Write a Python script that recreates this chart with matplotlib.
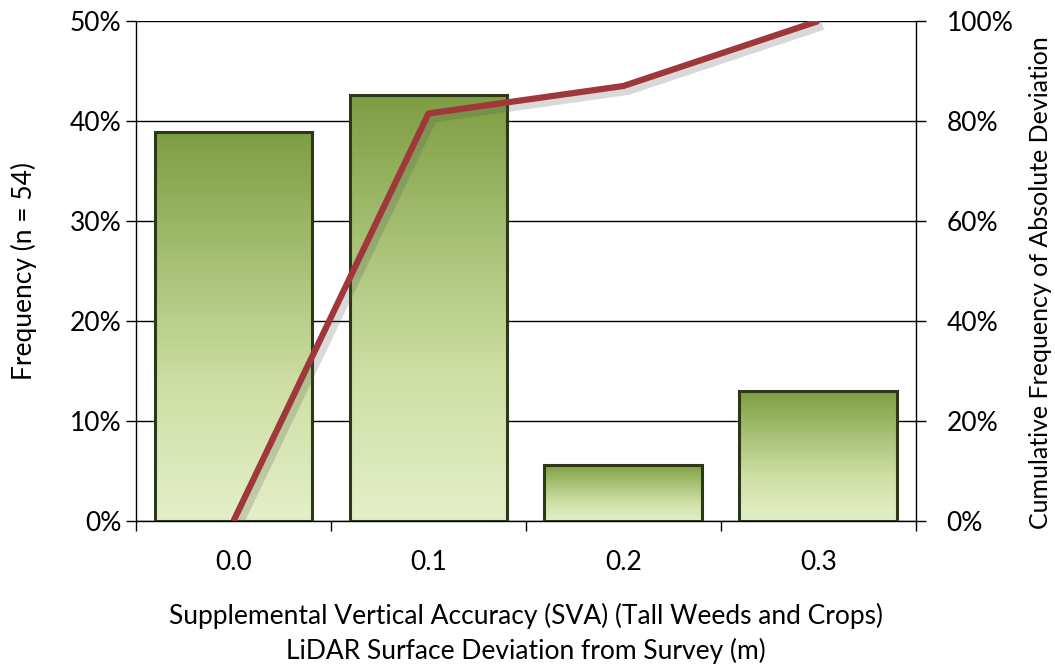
import numpy as np
import matplotlib
matplotlib.use("Agg")
import matplotlib.pyplot as plt
import matplotlib.patheffects as pe
from matplotlib.colors import LinearSegmentedColormap
from matplotlib.ticker import FuncFormatter, MultipleLocator

# --- data ---
categories = ["0.0", "0.1", "0.2", "0.3"]
frequency = [38.9, 42.6, 5.6, 13.0]          # % of n = 54
cumulative = [0.0, 81.5, 87.0, 100.0]        # cumulative % of absolute deviation

plt.rcParams['font.family'] = ['Lato', 'DejaVu Sans']

fig = plt.figure(figsize=(10.55, 6.66), dpi=100)
ax = fig.add_axes([0.1289, 0.2177, 0.7393, 0.7508])
ax2 = ax.twinx()

x = np.arange(len(categories))
bar_w = 0.81

# gradient for each bar (dark top -> light bottom)
cmap = LinearSegmentedColormap.from_list("grn", ["#e4efc8", "#cfe0a6", "#a6c074", "#7d9d42"])
grad = np.linspace(0, 1, 256).reshape(-1, 1)
bars = ax.bar(x, frequency, width=bar_w, facecolor="none", edgecolor="#2c3818",
              linewidth=2.2, zorder=3)
for b in bars:
    x0, y0 = b.get_x(), b.get_y()
    w, h = b.get_width(), b.get_height()
    im = ax.imshow(grad, extent=(x0, x0 + w, y0, y0 + h), origin="lower",
                   cmap=cmap, aspect="auto", zorder=2, interpolation="bicubic")
    im.set_clip_path(b)

ax.set_xlim(-0.5, len(categories) - 0.5)
ax.set_ylim(0, 50)
ax.yaxis.set_major_locator(MultipleLocator(10))
ax.yaxis.set_major_formatter(FuncFormatter(lambda v, p: f"{v:.0f}%"))
ax.grid(axis="y", color="black", linewidth=1.0, zorder=0)
ax.set_axisbelow(True)

# x ticks: labels at centres, marks between categories
ax.set_xticks(x)
ax.set_xticklabels(categories, fontsize=19)
ax.tick_params(axis="x", which="major", length=0, pad=21)
ax.set_xticks(np.arange(-0.5, len(categories)), minor=True)
ax.tick_params(axis="x", which="minor", length=7, width=1, direction="out")
ax.tick_params(axis="y", labelsize=19, length=7, width=1, direction="out")

ax.spines["top"].set_visible(False)
ax2.spines["top"].set_visible(False)
ax.spines["right"].set_visible(False)
for s in ["left", "bottom"]:
    ax.spines[s].set_linewidth(1.0)
ax2.spines["right"].set_linewidth(1.0)
ax2.spines["left"].set_visible(False)
ax2.spines["bottom"].set_visible(False)

ax2.plot(x, cumulative, color="#a0373a", linewidth=4.5, solid_capstyle="butt", zorder=5,
         path_effects=[pe.SimpleLineShadow(offset=(3, -3), shadow_color="#555555", alpha=0.22,
                                           linewidth=7),
                       pe.Normal()])
ax2.set_ylim(0, 100)
ax2.yaxis.set_major_locator(MultipleLocator(20))
ax2.yaxis.set_major_formatter(FuncFormatter(lambda v, p: f"{v:.0f}%"))
ax2.tick_params(axis="y", labelsize=19, length=7, width=1, direction="out", pad=15)

ax.set_ylabel("Frequency (n = 54)", fontsize=19)
ax.yaxis.set_label_coords(-0.127, 0.5)
ax2.set_ylabel("Cumulative Frequency of Absolute Deviation", fontsize=18)
ax2.yaxis.set_label_coords(1.145, 0.476)
ax.set_xlabel("Supplemental Vertical Accuracy (SVA) (Tall Weeds and Crops)\n"
              "LiDAR Surface Deviation from Survey (m)", fontsize=19, labelpad=20,
              linespacing=1.4)

fig.savefig("out.png", dpi=100)
